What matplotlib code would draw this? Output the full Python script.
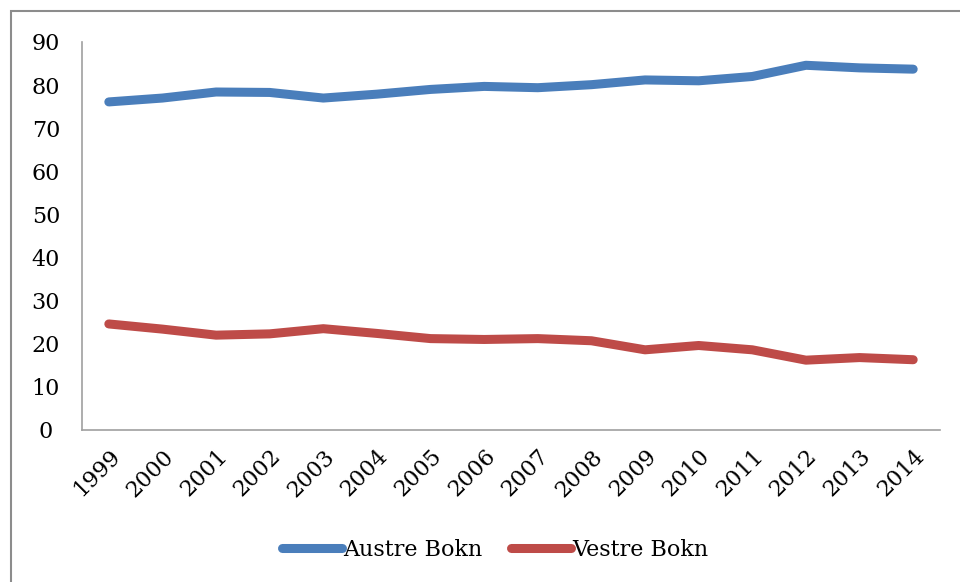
import matplotlib.pyplot as plt
from matplotlib.patches import Rectangle

years = [str(y) for y in range(1999, 2015)]
austre = [76.1, 77.0, 78.4, 78.3, 77.0, 77.9, 79.0, 79.7, 79.4, 80.1, 81.2, 81.0, 82.0, 84.6, 84.0, 83.7]
vestre = [24.6, 23.4, 22.0, 22.3, 23.5, 22.4, 21.2, 21.0, 21.2, 20.7, 18.6, 19.6, 18.6, 16.2, 16.8, 16.3]

plt.rcParams['font.family'] = ['DejaVu Serif']

fig = plt.figure(figsize=(9.6, 5.82), dpi=100)
ax = fig.add_axes([82 / 960, 1 - 430 / 582, (940 - 82) / 960, (430 - 42) / 582])

x = range(len(years))
ax.plot(x, austre, color='#4A7EBB', linewidth=6.5, solid_capstyle='round', label='Austre Bokn')
ax.plot(x, vestre, color='#BE4B48', linewidth=6.5, solid_capstyle='round', label='Vestre Bokn')

ax.set_xlim(-0.5, len(years) - 0.5)
ax.set_ylim(0, 90)
ax.set_yticks(range(0, 91, 10))
ax.set_xticks(list(x))
ax.set_xticklabels(years, rotation=45, ha='right', rotation_mode='anchor')
ax.tick_params(axis='both', labelsize=16, length=0, colors='black')
ax.tick_params(axis='y', pad=26)
ax.tick_params(axis='x', pad=11)
for lbl in ax.get_yticklabels():
    lbl.set_horizontalalignment('center')
for s in ['top', 'right']:
    ax.spines[s].set_visible(False)
for s in ['left', 'bottom']:
    ax.spines[s].set_color('#A0A0A0')
    ax.spines[s].set_linewidth(1.2)

fig.legend(loc='center', bbox_to_anchor=(495 / 960, 1 - 550 / 582), ncol=2, frameon=False,
           fontsize=16, handlelength=2.7, handletextpad=0.05, columnspacing=1.3)

fig.patches.append(Rectangle((11 / 960, -0.01), 1.0, 1 - 11 / 582 + 0.01, transform=fig.transFigure,
                             fill=False, edgecolor='#8C8C8C', linewidth=1.5))

fig.savefig('out.png', dpi=100)
